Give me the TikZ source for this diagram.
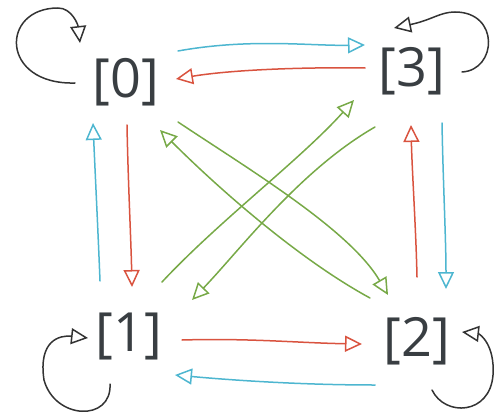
\documentclass[tikz,border=0pt]{standalone}
\usepackage{fontspec}
\setmainfont{Open Sans}
\usetikzlibrary{arrows.meta,calc}
\definecolor{cblue}{HTML}{4DB6D0}
\definecolor{cred}{HTML}{D9533F}
\definecolor{cgreen}{HTML}{77A947}
\definecolor{cblack}{HTML}{333333}
\definecolor{ctext}{HTML}{393E42}
\tikzset{
  lbl/.style={text=ctext, font=\fontsize{54}{60}\selectfont, inner sep=0pt},
  conn/.style={line width=1.5pt, line cap=round, line join=round,
    -{Triangle[open,length=17pt,width=16pt,line width=1.5pt]}},
  cb/.style={conn, draw=cblue},
  cr/.style={conn, draw=cred},
  cg/.style={conn, draw=cgreen},
  ck/.style={conn, draw=cblack},
}
\begin{document}
\begin{tikzpicture}[x=1pt,y=-1pt]
\useasboundingbox (0,0) rectangle (495,417);
\node[lbl] (n0) at (126,82) {[0]};
\node[lbl] (n3) at (412,71) {[3]};
\node[lbl] (n1) at (129,336) {[1]};
\node[lbl] (n2) at (417,341) {[2]};
% top pair
\draw[cb] ($(n0)+(52,-31)$) .. controls (250,38) and (310,46) .. ($(n3)+(-47,-26)$);
\draw[cr] ($(n3)+(-47,-3)$) .. controls (300,67) and (230,70) .. ($(n0)+(50,-3)$);
% left pair
\draw[cr] ($(n0)+(1,43)$) .. controls (128,180) and (131,240) .. ($(n1)+(3,-49)$);
\draw[cb] ($(n1)+(-29,-55)$) .. controls (98,230) and (95,170) .. ($(n0)+(-33,41)$);
% right pair
\draw[cr] ($(n2)+(0,-64)$) .. controls (416,230) and (412,170) .. ($(n3)+(-1,54)$);
\draw[cb] ($(n3)+(30,52)$) .. controls (443,180) and (446,240) .. ($(n2)+(29,-52)$);
% bottom pair
\draw[cr] ($(n1)+(53,4)$) .. controls (250,338) and (300,343) .. ($(n2)+(-55,3)$);
\draw[cb] ($(n2)+(-42,44)$) .. controls (300,385) and (230,380) .. ($(n1)+(46,39)$);
% diagonals
\draw[cg] ($(n0)+(52,40)$) .. controls (250,170) and (350,230) .. ($(n2)+(-29,-46)$);
\draw[cg] ($(n2)+(-47,-43)$) .. controls (300,260) and (220,190) .. ($(n0)+(34,48)$);
\draw[cg] ($(n1)+(33,-54)$) .. controls (220,220) and (300,160) .. ($(n3)+(-58,29)$);
\draw[cg] ($(n3)+(-37,56)$) .. controls (300,170) and (240,250) .. ($(n1)+(63,-36)$);
% self loops
\draw[ck] ($(n0)+(-51,1)$) .. controls (0,85) and (0,8) .. (58,8) .. controls (72,8) and (78,25) .. ($(n0)+(-46,-39)$);
\draw[ck] ($(n3)+(50,1)$) .. controls (497,70) and (500,12) .. (455,12) .. controls (440,12) and (432,20) .. ($(n3)+(-18,-43)$);
\draw[ck] ($(n1)+(-19,48)$) .. controls (112,422) and (55,420) .. (44,380) .. controls (38,340) and (60,335) .. ($(n1)+(-41,2)$);
\draw[ck] ($(n2)+(15,49)$) .. controls (445,417) and (490,415) .. (493,375) .. controls (495,345) and (480,334) .. ($(n2)+(45,-9)$);
\end{tikzpicture}
\end{document}
